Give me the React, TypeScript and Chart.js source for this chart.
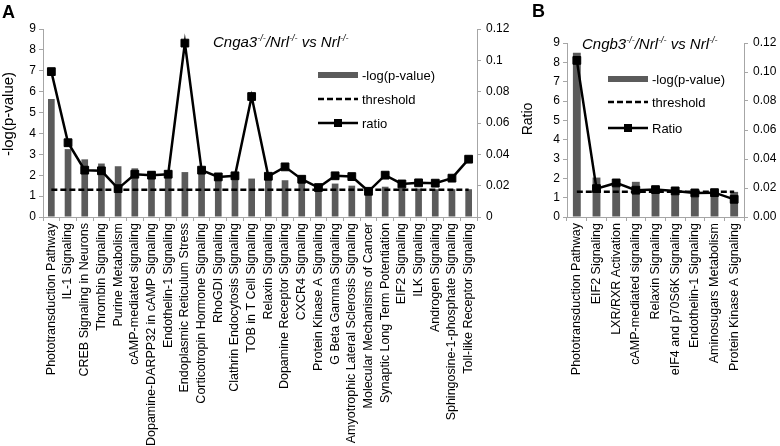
import React, { useEffect, useRef } from 'react';
import { Chart, registerables } from 'chart.js';

Chart.register(...registerables);

// ---------------- DATA ----------------
const CATEGORIES_A = [
  'Phototransduction Pathway',
  'IL-1 Signaling',
  'CREB Signaling in Neurons',
  'Thrombin Signaling',
  'Purine Metabolism',
  'cAMP-mediated signaling',
  'Dopamine-DARPP32 in cAMP Signaling',
  'Endothelin-1 Signaling',
  'Endoplasmic Reticulum Stress',
  'Corticotropin Hormone Signaling',
  'RhoGDI Signaling',
  'Clathrin Endocytosis Signaling',
  'TOB in T Cell Signaling',
  'Relaxin Signaling',
  'Dopamine Receptor Signaling',
  'CXCR4 Signaling',
  'Protein Kinase A Signaling',
  'G Beta Gamma Signaling',
  'Amyotrophic Lateral Sclerosis Signaling',
  'Molecular Mechanisms of Cancer',
  'Synaptic Long Term Potentiation',
  'EIF2 Signaling',
  'ILK Signaling',
  'Androgen Signaling',
  'Sphingosine-1-phosphate Signaling',
  'Toll-like Receptor Signaling',
];
const NEGLOGP_A = [5.65, 3.25, 2.76, 2.56, 2.43, 2.33, 2.2, 2.1, 2.15, 2.1, 2.0, 1.9, 1.84, 1.85, 1.76, 1.68, 1.5, 1.6, 1.5, 1.35, 1.45, 1.38, 1.36, 1.33, 1.33, 1.33];
const RATIO_A = [0.0928, 0.0474, 0.0299, 0.0295, 0.0181, 0.0273, 0.0267, 0.0273, 0.111, 0.0299, 0.0256, 0.0263, 0.0769, 0.026, 0.032, 0.0241, 0.0188, 0.0263, 0.0258, 0.0164, 0.0267, 0.0211, 0.0218, 0.0216, 0.0248, 0.0369];
const THRESHOLD_A = [1.3, 1.3, 1.3, 1.3, 1.3, 1.3, 1.3, 1.3, 1.3, 1.3, 1.3, 1.3, 1.3, 1.3, 1.3, 1.3, 1.3, 1.3, 1.3, 1.3, 1.3, 1.3, 1.3, 1.3, 1.3, 1.3];

const CATEGORIES_B = [
  'Phototransduction Pathway',
  'EIF2 Signaling',
  'LXR/RXR Activation',
  'cAMP-mediated signaling',
  'Relaxin Signaling',
  'eIF4 and p70S6K Signaling',
  'Endothelin-1 Signaling',
  'Aminosugars Metabolism',
  'Protein Kinase A Signaling',
];
const NEGLOGP_B = [8.5, 2.04, 1.75, 1.82, 1.58, 1.52, 1.35, 1.3, 1.3];
const RATIO_B = [0.108, 0.0196, 0.0235, 0.0185, 0.0189, 0.018, 0.0166, 0.0168, 0.0122];
const THRESHOLD_B = [1.3, 1.3, 1.3, 1.3, 1.3, 1.3, 1.3, 1.3, 1.3];

const LEGEND_A = ['-log(p-value)', 'threshold', 'ratio'];
const LEGEND_B = ['-log(p-value)', 'threshold', 'Ratio'];
const TITLE_A: Array<[string, boolean]> = [['Cnga3', false], ['-/-', true], ['/Nrl', false], ['-/-', true], [' vs Nrl', false], ['-/-', true]];
const TITLE_B: Array<[string, boolean]> = [['Cngb3', false], ['-/-', true], ['/Nrl', false], ['-/-', true], [' vs Nrl', false], ['-/-', true]];

// ---------------- STYLE ----------------
const FONT = "'Liberation Sans', Arial, Helvetica, sans-serif";
const BAR = '#5b5b5b';
const AXIS = '#a6a6a6';
const TEXT = '#000000';

function drawRich(ctx: CanvasRenderingContext2D, x: number, y: number, parts: Array<[string, boolean]>, size: number) {
  let cx = x;
  ctx.fillStyle = TEXT;
  ctx.textAlign = 'left';
  ctx.textBaseline = 'alphabetic';
  for (const [t, sup] of parts) {
    ctx.font = `italic ${sup ? size * 0.6 : size}px ${FONT}`;
    ctx.fillText(t, cx, sup ? y - size * 0.42 : y);
    cx += ctx.measureText(t).width;
  }
}

function drawLegend(ctx: CanvasRenderingContext2D, x: number, rows: number[], labels: string[]) {
  const w = 40;
  // bar swatch
  ctx.fillStyle = BAR;
  ctx.fillRect(x, rows[0] - 3, w, 6);
  // dashed threshold
  ctx.strokeStyle = '#000';
  ctx.lineWidth = 2.5;
  ctx.setLineDash([6, 3]);
  ctx.beginPath();
  ctx.moveTo(x, rows[1]);
  ctx.lineTo(x + w, rows[1]);
  ctx.stroke();
  ctx.setLineDash([]);
  // ratio line with marker
  ctx.beginPath();
  ctx.moveTo(x, rows[2]);
  ctx.lineTo(x + w, rows[2]);
  ctx.stroke();
  ctx.fillStyle = '#000';
  ctx.fillRect(x + w / 2 - 4, rows[2] - 4, 8, 8);
  // text
  ctx.fillStyle = TEXT;
  ctx.font = `13px ${FONT}`;
  ctx.textAlign = 'left';
  ctx.textBaseline = 'middle';
  labels.forEach((l, i) => ctx.fillText(l, x + w + 4, rows[i] + 1));
}

function drawRotated(ctx: CanvasRenderingContext2D, text: string, cx: number, cy: number, size: number) {
  ctx.save();
  ctx.translate(cx, cy);
  ctx.rotate(-Math.PI / 2);
  ctx.fillStyle = TEXT;
  ctx.font = `${size}px ${FONT}`;
  ctx.textAlign = 'center';
  ctx.textBaseline = 'middle';
  ctx.fillText(text, 0, 0);
  ctx.restore();
}

function makeConfig(
  labels: string[], bars: number[], ratio: number[], thresh: number[],
  legend: string[], opts: {
    top: number; leftW: number; rightW: number; xH: number; barPct: number;
    rightFmt: (v: number) => string; overlay: (ctx: CanvasRenderingContext2D) => void;
  }
): any {
  const tickFont = { family: FONT, size: 12 };
  return {
    type: 'bar',
    data: {
      labels,
      datasets: [
        {
          type: 'line', label: legend[2], data: ratio, yAxisID: 'y1',
          borderColor: '#000', backgroundColor: '#000', borderWidth: 2.5,
          pointStyle: 'rect', pointRadius: 5.5, pointBorderWidth: 1,
          pointBackgroundColor: '#000', pointBorderColor: '#000', order: 1,
        },
        {
          type: 'line', label: legend[1], data: thresh, yAxisID: 'y',
          borderColor: '#000', borderWidth: 2.5, borderDash: [6, 3], pointRadius: 0, order: 2,
        },
        {
          type: 'bar', label: legend[0], data: bars, yAxisID: 'y',
          backgroundColor: BAR, barPercentage: opts.barPct, categoryPercentage: 1, order: 3,
        },
      ],
    },
    options: {
      animation: false,
      responsive: false,
      maintainAspectRatio: false,
      layout: { padding: { top: opts.top, left: 0, right: 0, bottom: 0 } },
      plugins: { legend: { display: false }, tooltip: { enabled: false }, title: { display: false } },
      scales: {
        x: {
          grid: { display: true, drawOnChartArea: false, drawTicks: true, tickLength: 4, color: AXIS, offset: true },
          border: { color: AXIS, width: 1 },
          ticks: { autoSkip: false, minRotation: 90, maxRotation: 90, padding: 2, color: TEXT, font: { family: FONT, size: 12.5 } },
          afterFit: (s: any) => { s.height = opts.xH; },
        },
        y: {
          position: 'left', min: 0, max: 9,
          ticks: { stepSize: 1, padding: 3, color: TEXT, font: tickFont },
          grid: { drawOnChartArea: false, drawTicks: true, tickLength: 4, color: AXIS },
          border: { color: AXIS, width: 1 },
          afterFit: (s: any) => { s.width = opts.leftW; },
        },
        y1: {
          position: 'right', min: 0, max: 0.12,
          ticks: { stepSize: 0.02, padding: 5, color: TEXT, font: tickFont, callback: (v: any) => opts.rightFmt(Number(v)) },
          grid: { drawOnChartArea: false, drawTicks: true, tickLength: 4, color: AXIS },
          border: { color: AXIS, width: 1 },
          afterFit: (s: any) => { s.width = opts.rightW; },
        },
      },
    },
    plugins: [
      {
        id: 'overlay',
        afterDraw(chart: any) {
          const ctx = chart.ctx as CanvasRenderingContext2D;
          ctx.save();
          opts.overlay(ctx);
          ctx.restore();
        },
      },
    ],
  };
}

function ChartCanvas({ left, width, config }: { left: number; width: number; config: () => any }) {
  const ref = useRef<HTMLCanvasElement | null>(null);
  useEffect(() => {
    if (!ref.current) return;
    const chart = new Chart(ref.current, config());
    return () => chart.destroy();
  }, []);
  return (
    <canvas
      ref={ref}
      width={width}
      height={446}
      style={{ position: 'absolute', left, top: 0, width, height: 446 }}
    />
  );
}

export default function App() {
  const configA = () =>
    makeConfig(CATEGORIES_A, NEGLOGP_A, RATIO_A, THRESHOLD_A, LEGEND_A, {
      top: 29, leftW: 43, rightW: 68, xH: 229, barPct: 0.4,
      rightFmt: (v) => String(Math.round(v * 100) / 100),
      overlay: (ctx) => {
        ctx.fillStyle = TEXT;
        ctx.font = `bold 18px ${FONT}`;
        ctx.textAlign = 'left';
        ctx.textBaseline = 'alphabetic';
        ctx.fillText('A', 2, 18);
        drawRich(ctx, 213, 47, TITLE_A, 15);
        drawLegend(ctx, 318, [75, 99, 123], LEGEND_A);
        drawRotated(ctx, '-log(p-value)', 9, 114, 15);
        drawRotated(ctx, 'Ratio', 528, 119, 14);
      },
    });
  const configB = () =>
    makeConfig(CATEGORIES_B, NEGLOGP_B, RATIO_B, THRESHOLD_B, LEGEND_B, {
      top: 43, leftW: 47, rightW: 36, xH: 229, barPct: 0.4,
      rightFmt: (v) => v.toFixed(2),
      overlay: (ctx) => {
        ctx.fillStyle = TEXT;
        ctx.font = `bold 18px ${FONT}`;
        ctx.textAlign = 'left';
        ctx.textBaseline = 'alphabetic';
        ctx.fillText('B', 12, 17);
        drawRich(ctx, 62, 49, TITLE_B, 15);
        drawLegend(ctx, 88, [79, 102, 128], LEGEND_B);
      },
    });
  return (
    <div style={{ position: 'absolute', left: 0, top: 0, width: 780, height: 446, background: '#fff', overflow: 'hidden' }}>
      <ChartCanvas left={0} width={545} config={configA} />
      <ChartCanvas left={520} width={260} config={configB} />
    </div>
  );
}
